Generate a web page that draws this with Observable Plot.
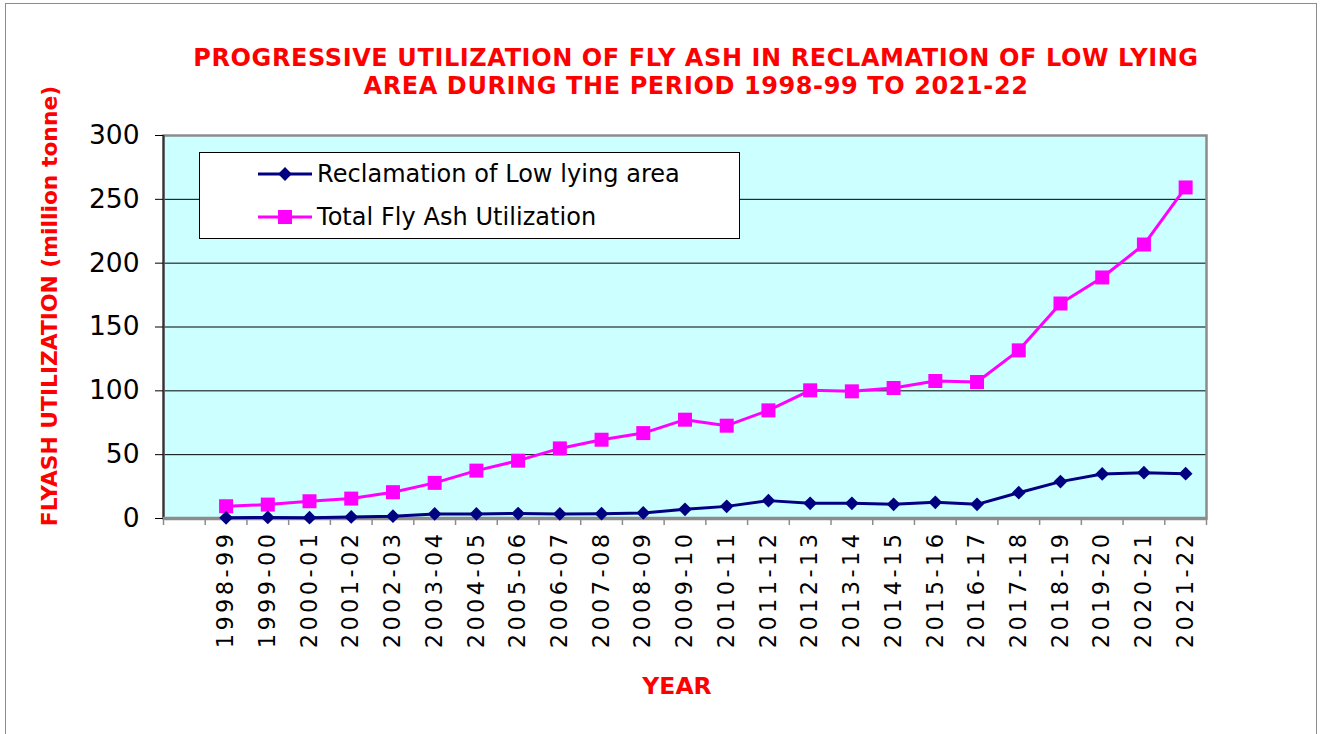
<!DOCTYPE html>
<html><head><meta charset="utf-8">
<script src="https://cdn.jsdelivr.net/npm/d3@7"></script>
<script src="https://cdn.jsdelivr.net/npm/@observablehq/plot@0.6"></script>
<style>
body{margin:0;background:#fff;font-family:"DejaVu Sans",Verdana,sans-serif;}
#wrap{position:relative;width:1324px;height:734px;overflow:hidden;}
#frame{position:absolute;left:5px;top:3px;width:1312px;height:780px;border:1.5px solid #8c8c8c;box-sizing:border-box;}
#chart{position:absolute;left:0;top:0;}
.red{position:absolute;color:#ff0000;font-weight:bold;white-space:nowrap;}
#title{left:696px;top:44px;transform:translateX(-50%);font-size:24px;letter-spacing:0.6px;line-height:28px;text-align:center;}
#ytitle{left:49px;top:306px;transform:translate(-50%,-50%) rotate(-90deg);font-size:21.8px;}
#xtitle{left:677px;top:686px;transform:translate(-50%,-50%);font-size:23.5px;}
#legend{position:absolute;left:199px;top:152px;width:541px;height:87px;border:1px solid #000;background:#fff;box-sizing:border-box;}
.lrow{position:absolute;left:0;height:30px;}
.lrow svg{position:absolute;left:58px;top:0;}
.lrow span{position:absolute;left:117px;top:50%;transform:translateY(-50%);font-size:24px;letter-spacing:0.05px;white-space:nowrap;color:#000;}
</style>
</head><body>
<div id="wrap">
  <div id="frame"></div>
  <div id="chart"></div>
  <div id="title" class="red">PROGRESSIVE UTILIZATION OF FLY ASH IN RECLAMATION OF LOW LYING<br>AREA DURING THE PERIOD 1998-99 TO 2021-22</div>
  <div id="ytitle" class="red">FLYASH UTILIZATION (million tonne)</div>
  <div id="xtitle" class="red">YEAR</div>
  <div id="legend"></div>
</div>
<script>
// ---- data ----
const years = ["1998-99","1999-00","2000-01","2001-02","2002-03","2003-04","2004-05","2005-06","2006-07","2007-08","2008-09","2009-10","2010-11","2011-12","2012-13","2013-14","2014-15","2015-16","2016-17","2017-18","2018-19","2019-20","2020-21","2021-22"];
const reclamation = [0.5,0.8,0.6,1.2,1.8,3.6,3.6,3.9,3.6,3.8,4.4,7.2,9.5,14.0,11.9,11.9,11.1,12.7,11.1,20.2,28.9,34.9,35.9,35.1];
const totalUtilization = [9.6,10.9,13.5,15.6,20.6,27.9,37.5,45.3,54.9,61.7,66.9,77.4,72.7,84.7,100.4,99.6,102.2,107.7,106.9,131.7,168.4,188.8,214.6,259.3];
const yTicks = [0,50,100,150,200,250,300];
const seriesNames = ["Reclamation of Low lying area","Total Fly Ash Utilization"];
const seriesColors = ["#000080","#FF00FF"];

// category slot: first slot left empty as in the original chart
const data = years.map((year, i) => ({year, pos: i + 1.5, reclamation: reclamation[i], total: totalUtilization[i]}));
const positions = data.map(d => d.pos);

const chart = Plot.plot({
  width: 1324, height: 734,
  marginLeft: 163, marginRight: 118, marginTop: 135, marginBottom: 216,
  style: {background: "transparent", fontFamily: "DejaVu Sans, Verdana, sans-serif", color: "#000", overflow: "visible"},
  x: {type: "linear", domain: [0, years.length + 1], axis: null},
  y: {domain: [0, 300], axis: null},
  marks: [
    Plot.frame({fill: "#CCFFFF", stroke: null}),
    Plot.ruleY(yTicks.filter(v => v > 0 && v < 300), {stroke: "#000", strokeWidth: 1}),
    Plot.frame({stroke: "#8c8c8c", strokeWidth: 2.5}),
    Plot.ruleX([0], {stroke: "#333", strokeWidth: 2}),
    Plot.ruleY([0], {stroke: "#8c8c8c", strokeWidth: 3.5}),
    Plot.axisY({ticks: yTicks, tickSize: 8, tickPadding: 16, fontSize: 26.5, tickFormat: d => String(d), stroke: "#000", label: null}),
    Plot.axisX({ticks: d3.range(0, years.length + 2), tickSize: 7, tickFormat: () => "", stroke: "#8c8c8c", strokeWidth: 1.5, label: null}),
    Plot.axisX({ticks: positions, tickSize: 0, tickRotate: -90, tickPadding: 12, fontSize: 22.5, tickFormat: v => years[Math.round(v - 1.5)], label: null}),
    Plot.line(data, {x: "pos", y: "total", stroke: seriesColors[1], strokeWidth: 3}),
    Plot.dot(data, {x: "pos", y: "total", symbol: "square", r: 7.9, fill: seriesColors[1], stroke: "none"}),
    Plot.line(data, {x: "pos", y: "reclamation", stroke: seriesColors[0], strokeWidth: 3}),
    Plot.dot(data, {x: "pos", y: "reclamation", symbol: "diamond2", r: 6.2, fill: seriesColors[0], stroke: "none"})
  ]
});
d3.select(chart).selectAll("g[aria-label='x-axis tick label'] text").style("letter-spacing", "3.4px");
document.getElementById("chart").appendChild(chart);

// ---- legend ----
const legend = d3.select("#legend");
const symbols = [d3.symbolDiamond2, d3.symbolSquare];
const sizes = [Math.PI * 6.2 * 6.2, Math.PI * 7.9 * 7.9];
seriesNames.forEach((name, k) => {
  const row = legend.append("div").attr("class", "lrow").style("top", (k === 0 ? 6 : 49) + "px").style("width", "100%");
  const svg = row.append("svg").attr("width", 56).attr("height", 30);
  svg.append("line").attr("x1", 0).attr("x2", 54).attr("y1", 15).attr("y2", 15).attr("stroke", seriesColors[k]).attr("stroke-width", 3);
  svg.append("path").attr("transform", "translate(27,15)").attr("d", d3.symbol(symbols[k], sizes[k])()).attr("fill", seriesColors[k]);
  row.append("span").text(name);
});
</script>
</body></html>
